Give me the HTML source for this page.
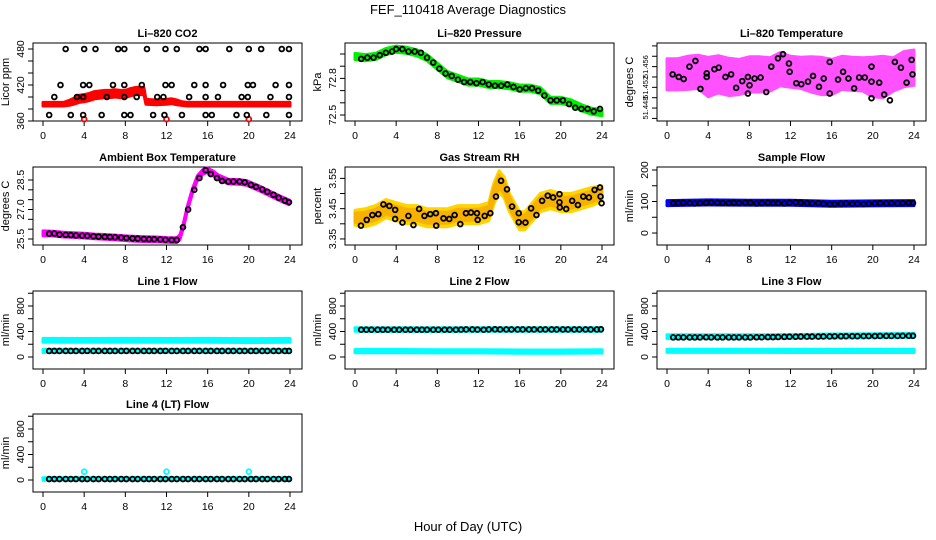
<!DOCTYPE html>
<html><head><meta charset="utf-8">
<style>
html,body{margin:0;padding:0;background:#fff;}
svg{display:block;font-family:"Liberation Sans",Arial,sans-serif;}
</style></head>
<body>
<svg id="chart" width="936" height="540" viewBox="0 0 936 540" xmlns="http://www.w3.org/2000/svg">
<text x="468" y="14" font-size="13" text-anchor="middle">FEF_110418  Average Diagnostics</text>
<text x="468" y="531" font-size="13" text-anchor="middle">Hour of Day (UTC)</text>
</svg>
<script>
// ---------- data ----------
const xTicks = [0,4,8,12,16,20,24];
const flowHours = [0.6,1.1,1.6,2.2,2.7,3.2,3.8,4.3,4.9,5.4,6,6.5,7,7.6,8.1,8.7,9.2,9.8,10.3,10.8,11.4,11.9,12.5,13,13.6,14.1,14.7,15.2,15.8,16.3,16.9,17.4,18,18.5,19.1,19.6,20.2,20.7,21.3,21.8,22.4,22.9,23.5,23.9];

// CO2
const co2BandHours = [0,1,2,2.5,3,3.5,4,4.5,5,5.5,6,6.5,7,7.5,8,8.5,9,9.5,9.8,10,11,12,12.5,13,13.5,14,16,18,20,22,24];
const co2BandMid = [388,388,388,390,393,397,398,400,403,404,405,405,406,405,405,408,410,410,410,392,391,392,393,391,389,388,388,388,388,388,388];
const co2BandSpread = [3,3,3,4,5,6,6,6,6,6,6,6,6,6,6,6,6,6,6,4,4,4,4,4,3,3,3,3,3,3,3];
const co2Black480 = [2.2,4,5.1,7.3,7.9,10.1,11.9,13,15.2,15.8,18.1,20,21.2,23.2,23.9];
const co2Black420 = [1.7,3.9,4.5,6.8,7.9,9.6,11.9,12.5,14.7,15.8,17.5,19.9,20.4,22.6,23.9];
const co2Black400 = [1.1,3.3,3.9,6.2,7.9,9.1,11.1,11.7,14.2,15.8,17,19.3,19.9,22.1,23.9];
const co2Black370 = [0.6,2.7,3.9,5.7,7.9,8.5,10.7,11.8,13.5,15.8,16.4,18.8,19.8,21.7,23.9];
const co2RedOutHours = [4,12,20];
const co2RedOutVals = [363,363,363];

// Pressure
const presBandHours = [0,1,2,3,4,5,6,7,8,9,10,11,12,13,14,15,16,17,18,19,20,21,22,23,24];
const presBandMid = [72.98,72.97,72.98,73.02,73.04,73.03,73.01,72.97,72.90,72.83,72.80,72.77,72.77,72.75,72.75,72.74,72.72,72.72,72.70,72.62,72.62,72.60,72.56,72.53,72.52];
const presBlackHours = [0.6,1.2,1.8,2.4,3,3.6,4,4.6,5.2,5.8,6.4,7,7.6,8.2,8.8,9.4,10,10.6,11.2,11.8,12.4,13,13.6,14.2,14.8,15.4,16,16.6,17.2,17.8,18.4,19,19.6,20.2,20.8,21.4,22,22.6,23.2,23.8];
const presBlackVals = [72.96,72.97,72.97,72.99,73.01,73.02,73.04,73.04,73.02,73.02,73.01,72.97,72.93,72.88,72.84,72.82,72.79,72.77,72.77,72.76,72.77,72.75,72.74,72.74,72.75,72.73,72.71,72.72,72.72,72.70,72.66,72.62,72.62,72.62,72.59,72.56,72.55,72.55,72.53,72.55];

// Li-820 Temperature
const tempBandHours = [0,1,2,3,4,5,6,7,8,9,10,11,12,13,14,15,16,17,18,19,20,21,22,23,24];
const tempBandMid = [51.4545,51.4545,51.4548,51.4550,51.4540,51.4545,51.4540,51.4540,51.4545,51.4545,51.4545,51.4555,51.4550,51.4548,51.4545,51.4542,51.4540,51.4548,51.4546,51.4545,51.4540,51.4540,51.4545,51.4555,51.4558];
const tempBandSpread = [0.0030,0.0030,0.0032,0.0032,0.0038,0.0036,0.0036,0.0034,0.0034,0.0034,0.0032,0.0032,0.0030,0.0030,0.0034,0.0036,0.0034,0.0032,0.0032,0.0032,0.0038,0.0040,0.0032,0.0034,0.0034];
const tempBlackHours = [0.55,1.14,1.62,2.18,2.76,3.25,3.86,3.86,4.61,5.03,5.68,6.23,6.72,7.31,7.86,7.86,8.02,8.51,9.09,9.64,10.13,10.78,11.27,11.85,11.92,12.56,13.05,13.70,14.19,14.77,15.23,15.81,15.81,16.62,17.11,17.63,18.18,18.67,19.22,19.87,19.87,19.87,20.62,21.10,21.66,22.14,22.73,23.28,23.77,23.86];
const tempBlackVals = [51.4545,51.4540,51.4536,51.4560,51.4571,51.4517,51.4547,51.4540,51.4555,51.4558,51.4540,51.4545,51.4519,51.4532,51.4508,51.4540,51.4524,51.4537,51.4539,51.4511,51.4560,51.4576,51.4584,51.4566,51.4550,51.4528,51.4526,51.4531,51.4542,51.4521,51.4537,51.4569,51.4508,51.4535,51.4550,51.4537,51.4518,51.4539,51.4539,51.4560,51.4531,51.4499,51.4529,51.4506,51.4495,51.4569,51.4558,51.4529,51.4573,51.4545];

// Ambient box temperature
const ambBandHours = [0,1,2,3,4,5,6,7,8,9,10,11,12,13,13.3,13.6,14,14.5,15,15.5,15.9,16.5,17,18,19,19.8,20,21,22,23,23.9];
const ambBandVals = [25.79,25.77,25.72,25.70,25.67,25.63,25.61,25.58,25.54,25.51,25.49,25.48,25.45,25.44,25.6,26.1,27.0,27.9,28.6,28.9,29.0,28.85,28.65,28.42,28.40,28.35,28.30,28.08,27.82,27.57,27.37];
const ambBlackVals = [25.77,25.78,25.72,25.71,25.70,25.68,25.67,25.66,25.64,25.62,25.61,25.60,25.59,25.57,25.55,25.53,25.52,25.50,25.49,25.49,25.48,25.46,25.45,25.45,26.1,27.0,28.0,28.6,29.0,28.8,28.6,28.45,28.42,28.42,28.42,28.38,28.25,28.15,28.02,27.9,27.75,27.6,27.45,27.37];

// Gas stream RH
const rhBandHours = [0,1,2,3,4,5,6,7,8,9,10,11,12,13,13.5,14,14.5,15,15.5,16,16.5,17,18,19,20,21,22,23,24];
const rhBandMid = [3.42,3.42,3.43,3.45,3.44,3.43,3.43,3.42,3.42,3.42,3.43,3.43,3.43,3.44,3.50,3.54,3.52,3.47,3.44,3.41,3.41,3.43,3.47,3.48,3.47,3.47,3.48,3.49,3.50];
const rhBandSpread = [0.025,0.03,0.03,0.03,0.03,0.03,0.03,0.03,0.03,0.03,0.03,0.03,0.03,0.03,0.035,0.035,0.035,0.03,0.03,0.03,0.03,0.03,0.03,0.03,0.03,0.03,0.03,0.03,0.025];
const rhBlackHours = [0.58,1.14,1.69,2.27,2.76,3.34,3.90,3.90,4.61,5.19,5.68,6.23,6.75,7.31,7.86,7.89,8.60,9.16,9.68,10.23,10.78,11.27,11.85,11.92,12.60,13.15,13.70,14.19,14.77,15.26,15.91,15.91,16.56,17.11,17.63,18.18,18.73,19.25,19.87,19.87,19.90,20.52,21.10,21.66,22.18,22.73,23.28,23.80,23.86,23.96];
const rhBlackVals = [3.394,3.413,3.429,3.432,3.464,3.459,3.446,3.416,3.404,3.426,3.396,3.449,3.426,3.432,3.435,3.394,3.418,3.416,3.429,3.399,3.435,3.437,3.435,3.413,3.426,3.435,3.490,3.542,3.514,3.457,3.435,3.405,3.404,3.451,3.429,3.476,3.493,3.487,3.498,3.471,3.454,3.449,3.476,3.462,3.490,3.487,3.512,3.520,3.490,3.468];

// Flows
const flowBandHours = [0,4,8,12,16,20,24];
const sampleBandVals = [95,97,96,96,93,94,95];
const sampleBlackVals = [95,95,96,95,94,95,96,97,96,95,95,96,95,96,96,94,95,96,95,95,94,96,97,96,95,94,95,93,92,92,93,94,93,93,92,93,94,95,94,95,94,95,96,95];
const line1UpperVals = [262,260,262,260,262,258,262];
const line1LowerVals = [95,95,95,95,95,95,95];
const line1BlackVals = [95,95,95,95,95,95,95,96,95,95,95,95,95,95,96,95,95,95,95,95,95,96,95,95,95,95,95,95,95,95,95,95,95,95,95,95,95,95,95,95,95,95,95,95];
const line2UpperVals = [432,430,430,432,432,432,432];
const line2LowerVals = [92,92,90,90,85,85,88];
const line2BlackVals = [428,428,428,428,428,428,428,428,428,428,428,428,428,428,428,428,428,428,430,432,432,430,428,432,434,432,432,432,432,432,432,432,432,432,432,432,432,432,432,432,432,432,432,434];
const line3UpperVals = [318,318,318,322,330,335,340];
const line3LowerVals = [98,98,98,96,95,95,95];
const line3BlackVals = [308,308,308,308,308,308,310,308,308,308,308,308,308,308,308,310,310,312,312,314,316,318,318,320,320,320,320,322,322,325,325,326,326,326,328,328,328,330,330,330,330,332,332,332];
const line4BaseVals = [15,15,15,15,15,15,15];
const line4BlackVals = [15,15,15,15,15,15,15,15,15,15,15,15,15,15,15,15,15,15,15,15,15,15,15,15,15,15,15,15,15,15,15,15,15,15,15,15,15,15,15,15,15,15,15,15];
const line4SpikeHours = [4,12,20];
const line4SpikeVals = [130,130,130];

// ---------- drawing ----------
const svg = document.getElementById('chart');
const NS = 'http://www.w3.org/2000/svg';
const colLeft = [33,345,657];
const rowTop = [43,167,291,414];
const boxW = 269, boxH = 78;

function mk(tag, attrs, parent){
  const e = document.createElementNS(NS, tag);
  for (const k in attrs) e.setAttribute(k, attrs[k]);
  (parent||svg).appendChild(e);
  return e;
}

function makePanel(cfg){
  const L = colLeft[cfg.col], T = rowTop[cfg.row];
  const g = mk('g', {});
  
  
  const xs = h => L + 10 + h * (247/24);
  const ys = v => T + boxH - (v - cfg.lo) / (cfg.hi - cfg.lo) * boxH;
  const box = mk('rect', {x:L, y:T, width:boxW, height:boxH, fill:'none', stroke:'#000', 'stroke-width':1}, g);
  
  
  const t = mk('text', {x:L+boxW/2, y:T-6, 'font-size':11, 'font-weight':'bold', 'text-anchor':'middle'}, g);
  t.textContent = cfg.title;
  
  
  const xa = mk('g', {}, g);
  
  
  const B = T + boxH;
  mk('line', {x1:xs(xTicks[0]), x2:xs(xTicks[xTicks.length-1]), y1:B, y2:B, stroke:'#000'}, xa);
  xTicks.forEach(h => {
    mk('line', {x1:xs(h), x2:xs(h), y1:B, y2:B+5, stroke:'#000'}, xa);
    const tx = mk('text', {x:xs(h), y:B+18, 'font-size':10.5, 'text-anchor':'middle'}, xa);
    tx.textContent = h;
    
    
  });
  const ya = mk('g', {}, g);
  
  
  mk('line', {x1:L, x2:L, y1:ys(cfg.ticks[0]), y2:ys(cfg.ticks[cfg.ticks.length-1]), stroke:'#000'}, ya);
  cfg.ticks.forEach(v => mk('line', {x1:L-5, x2:L, y1:ys(v), y2:ys(v), stroke:'#000'}, ya));
  const lf = cfg.labelSize || 10.5;
  cfg.labels.forEach(v => {
    const y = ys(v);
    const tx = mk('text', {x:L-9, y:y, 'font-size':lf, 'text-anchor':'middle', transform:`rotate(-90 ${L-9} ${y})`}, ya);
    tx.textContent = cfg.fmt ? cfg.fmt(v) : v;
    
    
  });
  const yl = mk('text', {x:L-24, y:T+boxH/2, 'font-size':11, 'text-anchor':'middle', transform:`rotate(-90 ${L-24} ${T+boxH/2})`}, g);
  yl.textContent = cfg.ylab;
  
  
  return {g, xs, ys};
}

function band(p, hours, mid, spread, color, name, op){
  let up = [], dn = [];
  hours.forEach((h,i) => {
    const s = Array.isArray(spread) ? spread[i] : spread;
    up.push(p.xs(h).toFixed(1)+','+p.ys(mid[i]+s).toFixed(1));
    dn.unshift(p.xs(h).toFixed(1)+','+p.ys(mid[i]-s).toFixed(1));
  });
  const poly = mk('polygon', {points: up.concat(dn).join(' '), fill: color, stroke: color, 'stroke-width': 3, 'stroke-linejoin':'round', opacity: op||1}, p.g);
  
  
}

function pts(p, hours, vals, color, name){
  const g = mk('g', {}, p.g);
  
  
  hours.forEach((h,i) => {
    const c = mk('circle', {cx:p.xs(h), cy:p.ys(vals[i]), r:2.4, fill:'none', stroke:color, 'stroke-width':1.8}, g);
    
    
  });
}

const rng = (a,b,s) => { const r=[]; for(let v=a; v<=b+1e-9; v+=s) r.push(+v.toFixed(4)); return r; };

let p = makePanel({name:'panel-co2', col:0, row:0, title:'Li\u2013820 CO2', ylab:'Licor ppm', lo:360, hi:490, ticks:rng(360,480,20), labels:[360,420,480]});
band(p, co2BandHours, co2BandMid, co2BandSpread, '#ff0000', 'co2-raw-band');
pts(p, co2RedOutHours, co2RedOutVals, '#ff0000', 'co2-raw-outliers');
pts(p, co2Black480, co2Black480.map(()=>480), '#000', 'co2-avg-480');
pts(p, co2Black420, co2Black420.map(()=>420), '#000', 'co2-avg-420');
pts(p, co2Black400, co2Black400.map(()=>400), '#000', 'co2-avg-400');
pts(p, co2Black370, co2Black370.map(()=>370), '#000', 'co2-avg-370');

p = makePanel({name:'panel-pressure', col:1, row:0, title:'Li\u2013820 Pressure', ylab:'kPa', lo:72.451, hi:73.09, ticks:rng(72.5,73.0,0.1), labels:[72.5,72.8], fmt:v=>v.toFixed(1)});
band(p, presBandHours, presBandMid, 0.025, '#00ee00', 'pressure-raw-band');
pts(p, presBlackHours, presBlackVals, '#000', 'pressure-avg-points');

p = makePanel({name:'panel-li820-temp', col:2, row:0, title:'Li\u2013820 Temperature', ylab:'degrees C', lo:51.4455, hi:51.46056, ticks:rng(51.446,51.46,0.002), labels:[51.448,51.452,51.456], fmt:v=>v.toFixed(3), labelSize:7.5});
band(p, tempBandHours, tempBandMid, tempBandSpread, '#ff33ff', 'temp-raw-band', 0.85);
pts(p, tempBlackHours, tempBlackVals, '#000', 'temp-avg-points');

p = makePanel({name:'panel-ambient-temp', col:0, row:1, title:'Ambient Box Temperature', ylab:'degrees C', lo:25.195, hi:29.16, ticks:rng(25.5,28.5,0.5), labels:[25.5,27.0,28.5], fmt:v=>v.toFixed(1)});
band(p, ambBandHours, ambBandVals, 0.12, '#ff00ff', 'ambient-raw-band');
pts(p, flowHours, ambBlackVals, '#000', 'ambient-avg-points');

p = makePanel({name:'panel-gas-rh', col:1, row:1, title:'Gas Stream RH', ylab:'percent', lo:3.330, hi:3.5876, ticks:rng(3.35,3.55,0.05), labels:[3.35,3.45,3.55], fmt:v=>v.toFixed(2)});
band(p, rhBandHours, rhBandMid, rhBandSpread, '#ffd400', 'rh-raw-band-yellow');
band(p, rhBandHours, rhBandMid, rhBandSpread.map(s=>s*0.6), '#f5a300', 'rh-raw-band-orange', 0.7);
pts(p, rhBlackHours, rhBlackVals, '#000', 'rh-avg-points');

p = makePanel({name:'panel-sample-flow', col:2, row:1, title:'Sample Flow', ylab:'ml/min', lo:-38, hi:209.5, ticks:rng(0,200,50), labels:[0,100,200]});
band(p, flowBandHours, sampleBandVals, 8, '#0000ff', 'sample-raw-band');
pts(p, flowHours, sampleBlackVals, '#000', 'sample-avg-points');

const flowCfg = {lo:-188, hi:1035, ticks:rng(0,1000,200), labels:[0,400,800], ylab:'ml/min'};
p = makePanel(Object.assign({name:'panel-line1-flow', col:0, row:2, title:'Line 1 Flow'}, flowCfg));
band(p, flowBandHours, line1UpperVals, 30, '#00ffff', 'line1-upper-band');
band(p, flowBandHours, line1LowerVals, 25, '#00ffff', 'line1-lower-band');
pts(p, flowHours, line1BlackVals, '#000', 'line1-avg-points');
p = makePanel(Object.assign({name:'panel-line2-flow', col:1, row:2, title:'Line 2 Flow'}, flowCfg));
band(p, flowBandHours, line2UpperVals, 28, '#00ffff', 'line2-upper-band');
band(p, flowBandHours, line2LowerVals, 25, '#00ffff', 'line2-lower-band');
pts(p, flowHours, line2BlackVals, '#000', 'line2-avg-points');
p = makePanel(Object.assign({name:'panel-line3-flow', col:2, row:2, title:'Line 3 Flow'}, flowCfg));
band(p, flowBandHours, line3UpperVals, 30, '#00ffff', 'line3-upper-band');
band(p, flowBandHours, line3LowerVals, 25, '#00ffff', 'line3-lower-band');
pts(p, flowHours, line3BlackVals, '#000', 'line3-avg-points');
p = makePanel(Object.assign({name:'panel-line4-flow', col:0, row:3, title:'Line 4 (LT) Flow'}, flowCfg));
band(p, flowBandHours, line4BaseVals, 20, '#00ffff', 'line4-band');
pts(p, line4SpikeHours, line4SpikeVals, '#00ffff', 'line4-spikes');
pts(p, flowHours, line4BlackVals, '#000', 'line4-avg-points');
</script>
</body></html>
